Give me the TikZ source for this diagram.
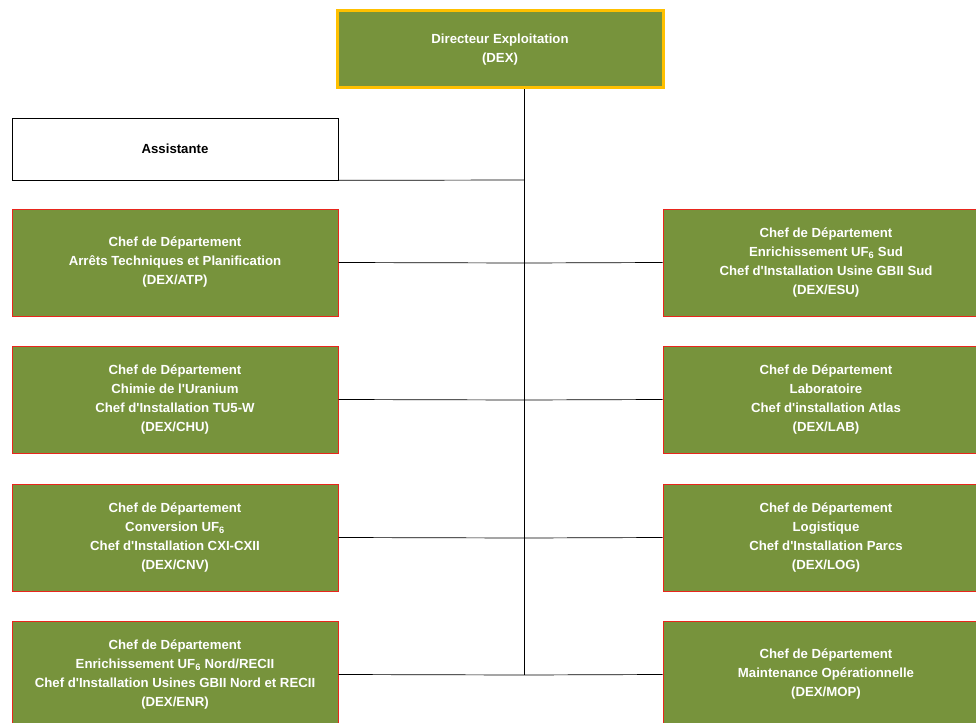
\documentclass[tikz,border=0pt]{standalone}
\usepackage{fontspec}
\setmainfont{Liberation Sans}
\definecolor{olive}{HTML}{77933C}
\definecolor{gold}{HTML}{FFC000}
\definecolor{redb}{HTML}{E8261C}
\newcommand\ap{\textquotesingle}
\begin{document}
\begin{tikzpicture}[x=1pt,y=-1pt,
  dept/.style={draw=redb,line width=1pt,fill=olive,text=white,font=\fontsize{13.2}{19}\selectfont\bfseries,align=center,minimum width=326pt,minimum height=107pt,inner sep=0pt},
  top/.style={draw=gold,line width=3pt,fill=olive,text=white,font=\fontsize{13.2}{19}\selectfont\bfseries,align=center,minimum width=326pt,minimum height=77pt,inner sep=0pt},
  asst/.style={draw=black,line width=0.7pt,fill=white,font=\fontsize{13.2}{19}\selectfont\bfseries,align=center,minimum width=326pt,minimum height=62pt,inner sep=0pt},
  link/.style={draw=black,line width=0.7pt}]
\useasboundingbox (0,0) rectangle (976,722);
\begin{scope}
\clip (0,0) rectangle (976,722);
\node[top] (dex) at (500,49.5) {Directeur Exploitation\\(DEX)};
\node[asst] (asst) at (175,149) {Assistante};
\node[dept] (atp) at (175,262.5) {Chef de Département\\Arrêts Techniques et Planification\\(DEX/ATP)};
\node[dept] (chu) at (175,399.5) {Chef de Département\\Chimie de l\ap Uranium\\Chef d\ap Installation TU5-W\\(DEX/CHU)};
\node[dept] (cnv) at (175,537.5) {Chef de Département\\Conversion UF\textsubscript{6}\\Chef d\ap Installation CXI-CXII\\(DEX/CNV)};
\node[dept] (enr) at (175,674.5) {Chef de Département\\Enrichissement UF\textsubscript{6} Nord/RECII\\Chef d\ap Installation Usines GBII Nord et RECII\\(DEX/ENR)};
\node[dept] (esu) at (826,262.5) {Chef de Département\\Enrichissement UF\textsubscript{6} Sud\\Chef d\ap Installation Usine GBII Sud\\(DEX/ESU)};
\node[dept] (lab) at (826,399.5) {Chef de Département\\Laboratoire\\Chef d\ap installation Atlas\\(DEX/LAB)};
\node[dept] (log) at (826,537.5) {Chef de Département\\Logistique\\Chef d\ap Installation Parcs\\(DEX/LOG)};
\node[dept] (mop) at (826,674.5) {Chef de Département\\Maintenance Opérationnelle\\(DEX/MOP)};
\end{scope}
\coordinate (tA) at (524,180);
\coordinate (t1) at (524,263);
\coordinate (t2) at (524,400);
\coordinate (t3) at (524,538);
\coordinate (t4) at (524,675);
\draw[link] (dex.south -| t4) -- (t4);
\draw[link] (asst.south east) -- (tA);
\draw[link] (atp.east) -- (t1) -- (esu.west);
\draw[link] (chu.east) -- (t2) -- (lab.west);
\draw[link] (cnv.east) -- (t3) -- (log.west);
\draw[link] (enr.east) -- (t4) -- (mop.west);
\end{tikzpicture}
\end{document}
